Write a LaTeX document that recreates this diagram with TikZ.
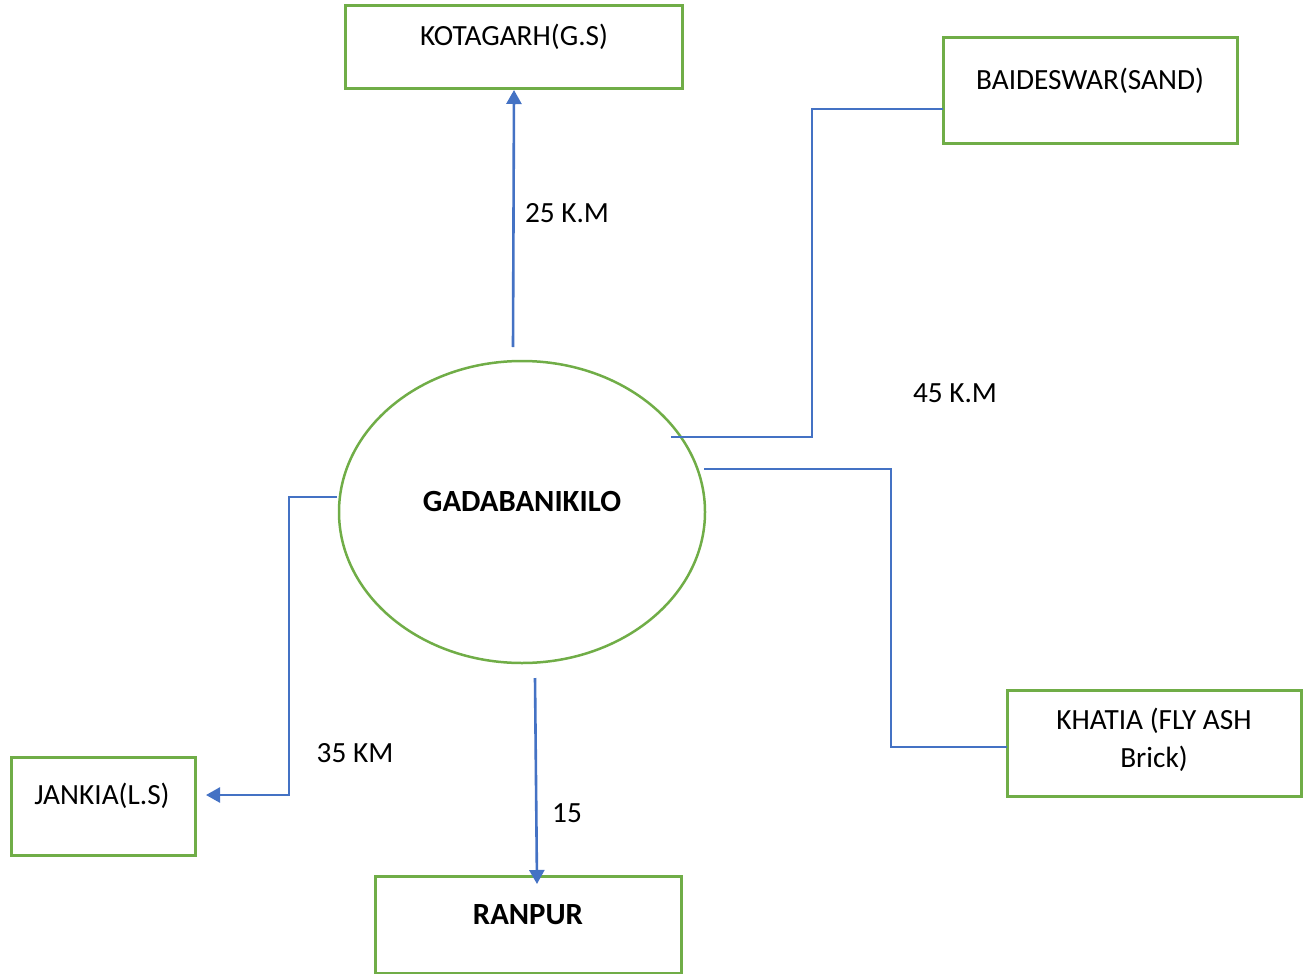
\documentclass[tikz,border=0pt]{standalone}
\usepackage{fontspec}
\setmainfont{Carlito}
\usetikzlibrary{arrows.meta,shapes.geometric}
\definecolor{gr}{HTML}{70AD47}
\definecolor{bl}{HTML}{4472C4}
\begin{document}
\begin{tikzpicture}[x=1pt,y=-1pt,
 box/.style={draw=gr,line width=3pt,rectangle,inner sep=0pt},
 lbl/.style={font=\fontsize{29.3}{38}\selectfont,inner sep=0pt,text=black,align=center},
 blbl/.style={lbl,font=\fontsize{30.8}{38}\selectfont\bfseries},
 arr/.style={draw=bl,line width=2.6pt,-{Triangle[length=14pt,width=15pt]}},
 thinline/.style={draw=bl,line width=1.2pt}]
\useasboundingbox (0,0) rectangle (1314,974);
% boxes
\node[box,minimum width=337pt,minimum height=83pt] (kot) at (514,47) {};
\node[box,minimum width=294pt,minimum height=105pt] (bai) at (1090,90.5) {};
\node[box,minimum width=294pt,minimum height=106pt] (kha) at (1154,743) {};
\node[box,minimum width=184pt,minimum height=98pt] (jan) at (103,806) {};
\node[box,minimum width=306pt,minimum height=97pt] (ran) at (528,924.5) {};
\node[draw=gr,line width=2.5pt,ellipse,inner sep=0pt,minimum width=366pt,minimum height=302pt] (gad) at (522,512) {};
% texts
\node[lbl] (tkot) at (514,37) {KOTAGARH(G.S)};
\node[lbl] (tbai) at (1090,81) {BAIDESWAR(SAND)};
\node[lbl] (tkha) at (1154,740) {KHATIA (FLY ASH\\Brick)};
\node[lbl] (tjan) at (102,796) {JANKIA(L.S)};
\node[blbl] (tran) at (528,915) {RANPUR};
\node[blbl] (tgad) at (522,502) {GADABANIKILO};
\node[lbl] (d25) at (567,213) {25 K.M};
\node[lbl] (d45) at (955,393) {45 K.M};
\node[lbl] (d35) at (355,753) {35 KM};
\node[lbl] (d15) at (567,813) {15};
% connector end points
\coordinate (k0) at (513,347);
\coordinate (r0) at (535,678);
\coordinate (r1) at (537,884);
\coordinate (j0) at (337,497);
\coordinate (j1) at (206,795);
\coordinate (b0) at (671,437);
\coordinate (b1) at (943,109);
\coordinate (c0) at (704,469);
\coordinate (c1) at (1007,747);
% connectors
\draw[arr] (k0) -- (kot.south);
\draw[arr] (r0) -- (r1);
\draw[arr] (j0) -- ++(-48,0) |- (j1);
\draw[thinline] (b0) -- ++(141,0) |- (b1);
\draw[thinline] (c0) -- ++(187,0) |- (c1);
\end{tikzpicture}
\end{document}
